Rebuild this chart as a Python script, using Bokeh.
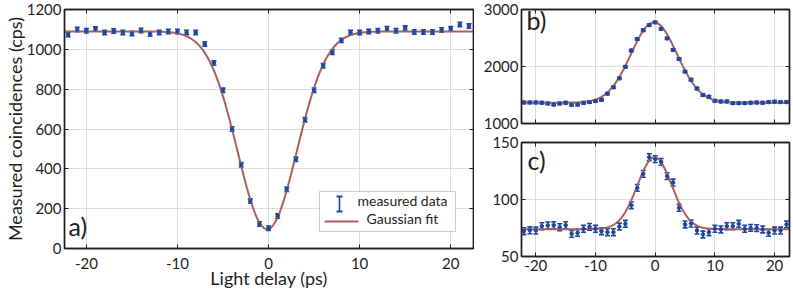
import numpy as np
from bokeh.plotting import figure
from bokeh.layouts import row, column
from bokeh.models import (ColumnDataSource, Whisker, TeeHead, LinearAxis,
                          FixedTicker, Range1d, Label, BoxAnnotation)
from bokeh.embed import file_html
from bokeh.resources import INLINE

# ---------------- data ----------------
delay_ps = list(range(-22, 23))

counts_a = [1074, 1100, 1093, 1102, 1085, 1092, 1084, 1079, 1095, 1077, 1085,
            1090, 1090, 1085, 1084, 1027, 931, 794, 600, 420, 238, 123, 102,
            163, 297, 448, 647, 795, 917, 985, 1045, 1085, 1085, 1090, 1093,
            1103, 1093, 1107, 1087, 1087, 1087, 1097, 1103, 1125, 1117]

counts_b = [1369, 1369, 1369, 1363, 1351, 1334, 1351, 1363, 1328, 1334, 1363,
            1375, 1393, 1417, 1524, 1637, 1792, 1994, 2280, 2482, 2637, 2726,
            2775, 2660, 2494, 2292, 2131, 1911, 1768, 1613, 1500, 1470, 1399,
            1387, 1387, 1357, 1357, 1357, 1363, 1369, 1363, 1375, 1381, 1375,
            1375]

counts_c = [72.2, 73.0, 72.8, 76.6, 77.2, 77.5, 75.7, 77.5, 69.9, 70.8, 74.3,
            76.0, 74.3, 72.2, 71.3, 71.3, 76.3, 78.7, 95.0, 110.2, 122.5, 137.1,
            135.4, 133.0, 120.5, 114.9, 92.7, 78.1, 78.9, 72.8, 69.3, 71.3, 74.3,
            73.7, 76.6, 76.6, 78.7, 74.3, 75.1, 74.9, 73.7, 70.8, 72.8, 72.8,
            78.1]

err_a = 11
err_b = 20
err_c = 3

# Gaussian fit parameters (baseline, amplitude, centre, sigma)
fit_a = dict(base=1090, amp=-993, mu=-0.15, sigma=3.25)
fit_b = dict(base=1365, amp=1410, mu=-0.2, sigma=3.85)
fit_c = dict(base=74, amp=63, mu=-0.1, sigma=2.9)

xticks = [-20, -10, 0, 10, 20]
xtick_text = {-20: "-20", -10: "-10"}
yticks_a = [0, 200, 400, 600, 800, 1000, 1200]
yticks_b = [1000, 2000, 3000]
yticks_c = [50, 100, 150]
x_span = (-22.4, 22.5)
y_span_a = (0, 1200)
y_span_b = (1000, 3000)
y_span_c = (50, 150)

legend_labels = ["measured data", "Gaussian fit"]

# ---------------- style ----------------
FONT = "Lato"
INK = "#1e1e1e"
BLUE = "#1b46a6"
RED = "#ab605b"
GRID = "#dcdcdc"


def gauss(x, base, amp, mu, sigma):
    return base + amp * np.exp(-(x - mu) ** 2 / (2 * sigma ** 2))


def make_panel(width, height, yspan, yticks, counts, err, fit, borders,
               xlabels=True, xstandoff=4):
    left, right, top, bottom = borders
    p = figure(width=width, height=height,
               x_range=Range1d(*x_span), y_range=Range1d(*yspan),
               output_backend="svg", toolbar_location=None,
               min_border_left=left, min_border_right=right,
               min_border_top=top, min_border_bottom=bottom)
    p.background_fill_color = "white"
    p.border_fill_color = "white"
    p.outline_line_color = INK
    p.outline_line_width = 1.4

    p.add_layout(LinearAxis(), "right")
    p.add_layout(LinearAxis(), "above")
    for ax in p.xaxis:
        ax.ticker = FixedTicker(ticks=xticks)
        ax.major_label_overrides = xtick_text
    for ax in p.yaxis:
        ax.ticker = FixedTicker(ticks=yticks)
    for ax in p.xaxis + p.yaxis:
        ax.axis_line_color = INK
        ax.axis_line_width = 1.4
        ax.major_tick_in = 4
        ax.major_tick_out = 0
        ax.major_tick_line_color = INK
        ax.major_tick_line_width = 1
        ax.minor_tick_line_color = None
        ax.major_label_text_font = FONT
        ax.major_label_text_font_size = "15px"
        ax.major_label_text_color = INK
        ax.major_label_standoff = 3
        ax.axis_label_text_font = FONT
        ax.axis_label_text_font_size = "18px"
        ax.axis_label_text_font_style = "normal"
        ax.axis_label_text_color = INK
        ax.axis_label_standoff = -2
    for ax in p.below:
        ax.major_label_standoff = xstandoff
        ax.axis_label_standoff = -5
    hidden = p.above + p.right + ([] if xlabels else p.below)
    for ax in hidden:
        ax.major_label_text_font_size = "0px"
        ax.major_label_text_color = None
        ax.major_label_standoff = 0

    p.xgrid.grid_line_color = GRID
    p.ygrid.grid_line_color = GRID
    p.xgrid.grid_line_width = 1
    p.ygrid.grid_line_width = 1

    xs = np.array(delay_ps, dtype=float)
    ys = np.array(counts, dtype=float)
    xf = np.linspace(x_span[0], x_span[1], 400)
    p.line(xf, gauss(xf, **fit), line_color=RED, line_width=2)

    src = ColumnDataSource(dict(x=xs, y=ys, lower=ys - err, upper=ys + err))
    wk = Whisker(source=src, base="x", lower="lower", upper="upper",
                 line_color=BLUE, line_width=1.6,
                 upper_head=TeeHead(size=5, line_color=BLUE, line_width=1.6),
                 lower_head=TeeHead(size=5, line_color=BLUE, line_width=1.6))
    p.add_layout(wk)
    p.scatter("x", "y", source=src, size=3.5, color=BLUE)
    return p


def tag(p, text, x, y):
    p.add_layout(Label(x=x, y=y, x_units="screen", y_units="screen", text=text,
                       text_font=FONT, text_font_size="25px", text_color=INK,
                       text_baseline="alphabetic"))


def sbox(p, l, r, b, t, **kw):
    p.add_layout(BoxAnnotation(left=l, right=r, bottom=b, top=t,
                               left_units="screen", right_units="screen",
                               bottom_units="screen", top_units="screen", **kw))


# ---------------- panel a ----------------
pa = make_panel(474, 292, y_span_a, yticks_a, counts_a, err_a, fit_a,
                (63, 1, 9, 44), xstandoff=9)
pa.below[0].axis_label = "Light delay (ps)"
pa.left[0].axis_label = "Measured coincidences (cps)"
tag(pa, "a)", 4, 23)

# legend drawn in screen units relative to the frame's bottom-left corner
sbox(pa, 255, 391, 17, 57, fill_color="white", fill_alpha=1,
     line_color="#555555", line_width=1)
for (l, r, b, t) in [(274.2, 275.8, 37, 52), (272, 278, 51, 53), (272, 278, 36, 38)]:
    sbox(pa, l, r, b, t, fill_color=BLUE, fill_alpha=1, line_color=None)
sbox(pa, 260, 294, 26, 28, fill_color=RED, fill_alpha=1, line_color=None)
pa.add_layout(Label(x=293, y=48, x_units="screen", y_units="screen",
                    text=legend_labels[0], text_font=FONT, text_font_size="14px",
                    text_color=INK, text_baseline="alphabetic"))
pa.add_layout(Label(x=302, y=30, x_units="screen", y_units="screen",
                    text=legend_labels[1], text_font=FONT, text_font_size="14px",
                    text_color=INK, text_baseline="alphabetic"))

# ---------------- panel b ----------------
pb = make_panel(319, 132, y_span_b, yticks_b, counts_b, err_b, fit_b,
                (47, 4, 9, 9), xlabels=False)
tag(pb, "b)", 5, 104)

# ---------------- panel c ----------------
pc = make_panel(319, 160, y_span_c, yticks_c, counts_c, err_c, fit_c,
                (47, 4, 10, 36), xstandoff=3)
tag(pc, "c)", 6, 97)

layout = row(pa, column(pb, pc))
open("out.html", "w").write(file_html(layout, INLINE))
